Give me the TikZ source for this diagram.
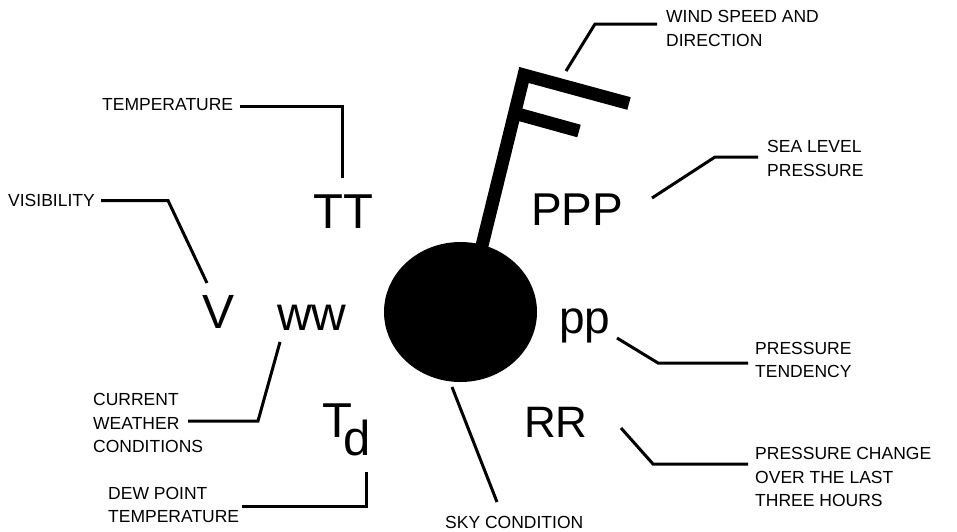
\documentclass[tikz,border=0pt]{standalone}
\usepackage{fontspec}
\setmainfont{Liberation Sans}
\begin{document}
\begin{tikzpicture}[x=1pt,y=-1pt,
  lbl/.style={inner sep=0pt,anchor=west,align=left,font=\fontsize{17.5}{23.3}\selectfont},
  big/.style={inner sep=0pt,anchor=base west},
  leader/.style={line width=3pt,line join=miter},
  barb/.style={line width=13pt,line join=miter,line cap=butt}]
\useasboundingbox (0,0) rectangle (957,531);
% station circle and wind barb
\fill (460.5,312) ellipse [x radius=76.5, y radius=70];
\coordinate (staffbase) at (476,270);
\coordinate (stafftop) at (524,75);
\coordinate (barbone) at (629,103.5);
\coordinate (barbtwoA) at (514,113);
\coordinate (barbtwoB) at (579,131);
\draw[barb] (staffbase) -- (stafftop) -- (barbone);
\draw[barb] (barbtwoA) -- (barbtwoB);
% big symbols
\node[big,font=\fontsize{49}{49}\selectfont] (TT) at (313,228) {TT};
\node[big,font=\fontsize{46}{46}\selectfont] (PPP) at (531,225) {PPP};
\node[big,font=\fontsize{48}{48}\selectfont] (V) at (202,328) {V};
\node[big,font=\fontsize{48}{48}\selectfont] (ww) at (277,330) {ww};
\node[big,font=\fontsize{49}{49}\selectfont] (Td) at (322,437) {T\kern-9pt\raisebox{-18pt}{d}};
\node[big,font=\fontsize{46}{46}\selectfont] (pp) at (559,333) {pp};
\node[big,font=\fontsize{44}{44}\selectfont] (RR) at (524,437) {RR};
% labels
\node[lbl] (wind) at (666,28.5) {WIND SPEED AND\\DIRECTION};
\node[lbl] (temp) at (102,104.5) {TEMPERATURE};
\node[lbl] (vis) at (8,200) {VISIBILITY};
\node[lbl] (slp) at (767,158.5) {SEA LEVEL\\PRESSURE};
\node[lbl] (tend) at (755,360) {PRESSURE\\TENDENCY};
\node[lbl] (change) at (755,477) {PRESSURE CHANGE\\OVER THE LAST\\THREE HOURS};
\node[lbl] (sky) at (445,522) {SKY CONDITION};
\node[lbl] (wx) at (93,423) {CURRENT\\WEATHER\\CONDITIONS};
\node[lbl] (dew) at (108,505) {DEW POINT\\TEMPERATURE};
% leader points
\coordinate (windA) at (566,71);
\coordinate (windB) at (595,24);
\coordinate (windC) at (657,24);
\coordinate (tempA) at (240,106);
\coordinate (tempB) at (342,178);
\coordinate (visA) at (101,200.5);
\coordinate (visB) at (168,200.5);
\coordinate (visC) at (207,283);
\coordinate (wxA) at (188,421);
\coordinate (wxB) at (258,421);
\coordinate (wxC) at (280,342);
\coordinate (dewA) at (242,506);
\coordinate (dewB) at (366,472);
\coordinate (skyA) at (452,387);
\coordinate (skyB) at (497,502);
\coordinate (rrA) at (621,428);
\coordinate (rrB) at (653,464);
\coordinate (rrC) at (748,464);
\coordinate (ppA) at (617,338);
\coordinate (ppB) at (658,363);
\coordinate (ppC) at (748,363);
\coordinate (slpA) at (652,198);
\coordinate (slpB) at (715,157);
\coordinate (slpC) at (758,157);
% leaders
\draw[leader] (windA) -- (windB) -- (windC);
\draw[leader] (tempA) -| (tempB);
\draw[leader] (visA) -- (visB) -- (visC);
\draw[leader] (wxA) -- (wxB) -- (wxC);
\draw[leader] (dewA) -| (dewB);
\draw[leader] (skyA) -- (skyB);
\draw[leader] (rrA) -- (rrB) -- (rrC);
\draw[leader] (ppA) -- (ppB) -- (ppC);
\draw[leader] (slpA) -- (slpB) -- (slpC);
\end{tikzpicture}
\end{document}
